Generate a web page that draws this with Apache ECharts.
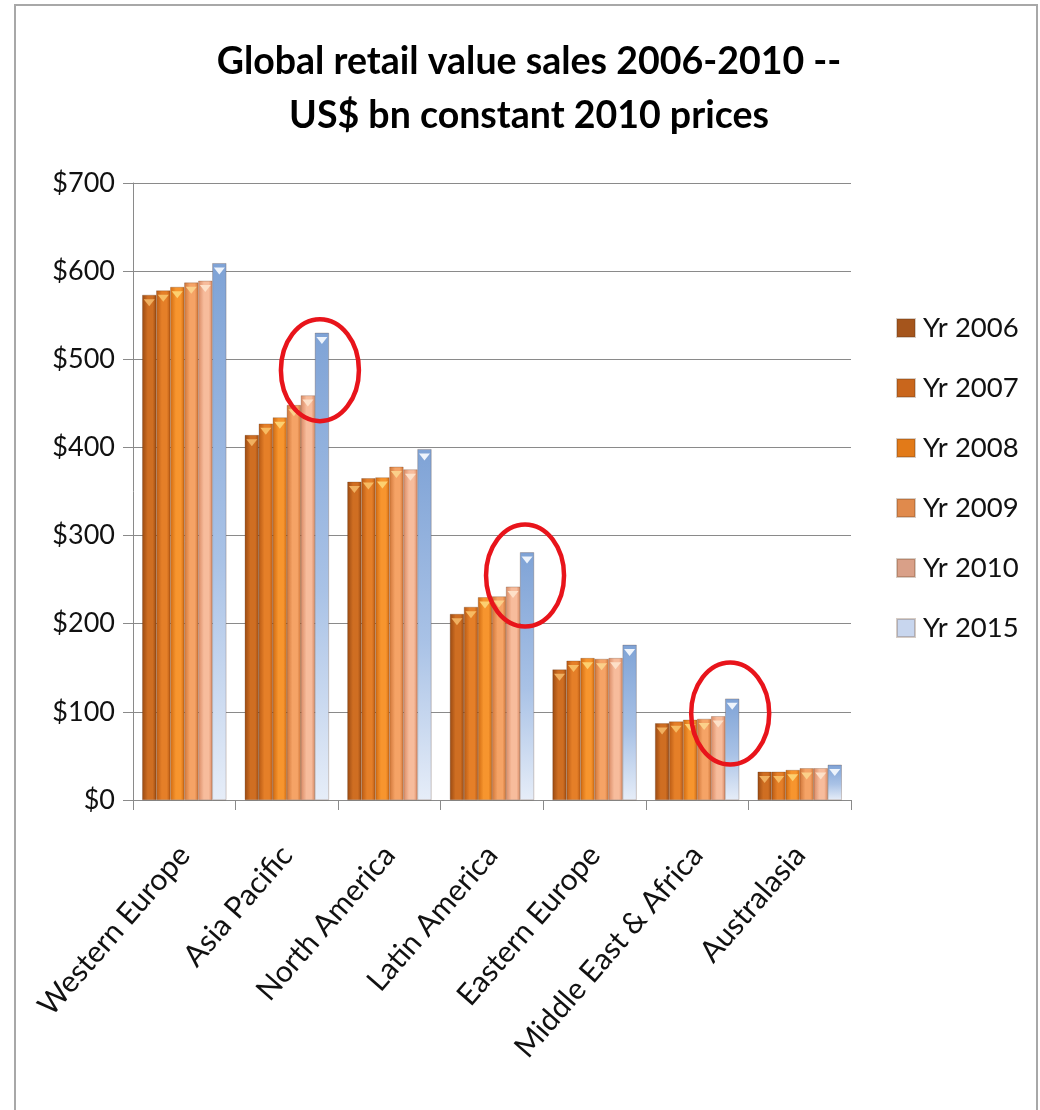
<!DOCTYPE html>
<html>
<head>
<meta charset="utf-8">
<script src="https://cdn.jsdelivr.net/npm/echarts@6/dist/echarts.min.js"></script>
<style>
  html, body { margin: 0; padding: 0; background: #ffffff; }
  #chart { width: 1040px; height: 1110px; }
</style>
</head>
<body>
<div id="chart"></div>
<script>
// Regions on the category axis
const regions = ['Western Europe', 'Asia Pacific', 'North America', 'Latin America',
                 'Eastern Europe', 'Middle East & Africa', 'Australasia'];

// Retail value sales, US$ bn at constant 2010 prices
const yr2006 = [573, 414, 361, 211, 148, 87, 32];
const yr2007 = [578, 427, 365, 219, 158, 89, 32];
const yr2008 = [582, 434, 366, 230, 161, 91, 34];
const yr2009 = [587, 448, 378, 231, 160, 92, 36];
const yr2010 = [589, 459, 375, 242, 161, 95, 36];
const yr2015 = [609, 530, 398, 281, 176, 115, 40];

const seriesNames = ['Yr 2006', 'Yr 2007', 'Yr 2008', 'Yr 2009', 'Yr 2010', 'Yr 2015'];
const seriesValues = [yr2006, yr2007, yr2008, yr2009, yr2010, yr2015];

// Value-axis ticks
const yTicks = [0, 100, 200, 300, 400, 500, 600, 700];

// Regions whose 2010→2015 jump is circled
const circled = ['Asia Pacific', 'Latin America', 'Middle East & Africa'];

const FONT = 'Lato, "Open Sans", sans-serif';

// Shaded fills: [edge, highlight]
const shades = [
  ['#9a4a12', '#cf6e22'],
  ['#b85a14', '#e57f28'],
  ['#cf6a12', '#f7952e'],
  ['#cf7538', '#f5a366'],
  ['#d98a64', '#f7bc9c'],
];

function barFill(i) {
  if (i === 5) {
    return new echarts.graphic.LinearGradient(0, 0, 0, 1, [
      { offset: 0, color: '#7fa3d6' },
      { offset: 0.55, color: '#a9c2e6' },
      { offset: 1, color: '#e6edf8' }
    ]);
  }
  const s = shades[i];
  return new echarts.graphic.LinearGradient(0, 0, 1, 0, [
    { offset: 0, color: s[0] },
    { offset: 0.4, color: s[1] },
    { offset: 0.75, color: s[1] },
    { offset: 1, color: s[0] }
  ]);
}
const legendColors = ['#a5551c', '#c9661c', '#e27a18', '#e08a4c', '#d9a088', '#c8d6ee'];
const capColors = ['#f0b060', '#f7bb62', '#fcd070', '#fbd08a', '#fde0c8', '#eef4fc'];

const BAR_CAT_GAP = '18%';

const series = [];
seriesValues.forEach((vals, i) => {
  series.push({
    name: seriesNames[i],
    type: 'bar',
    data: vals,
    barGap: '0%',
    barCategoryGap: BAR_CAT_GAP,
    itemStyle: { color: barFill(i), borderColor: 'rgba(90,50,20,0.25)', borderWidth: 0.5 },
    emphasis: { disabled: true }
  });
});
// Down-pointing caps on top of each bar
seriesValues.forEach((vals, i) => {
  series.push({
    name: seriesNames[i],
    type: 'pictorialBar',
    data: vals,
    barGap: '0%',
    barCategoryGap: BAR_CAT_GAP,
    symbol: 'triangle',
    symbolRotate: 180,
    symbolSize: [11, 7],
    symbolPosition: 'end',
    symbolOffset: [0, '60%'],
    itemStyle: { color: capColors[i] },
    z: 3,
    silent: true
  });
});

const chart = echarts.init(document.getElementById('chart'), null, { renderer: 'canvas' });

chart.setOption({
  animation: false,
  backgroundColor: '#ffffff',
  color: legendColors,
  title: {
    text: 'Global retail value sales 2006-2010 --\nUS$ bn constant 2010 prices',
    left: 524,
    textAlign: 'center',
    top: 30,
    textStyle: {
      fontFamily: FONT,
      fontWeight: 'bold',
      fontSize: 37.5,
      lineHeight: 54,
      color: '#000'
    }
  },
  legend: {
    orient: 'vertical',
    left: 891,
    top: 309,
    itemGap: 32,
    itemWidth: 18,
    itemHeight: 18,
    icon: 'rect',
    data: seriesNames.map((n, i) => ({ name: n, itemStyle: { color: legendColors[i] } })),
    textStyle: { fontFamily: FONT, fontSize: 27.5, color: '#111', padding: [0, 0, 0, 3] }
  },
  grid: { left: 133, right: 189, top: 183, bottom: 310, containLabel: false },
  xAxis: {
    type: 'category',
    data: regions,
    axisLine: { lineStyle: { color: '#8a8a8a', width: 1 } },
    axisTick: { show: true, length: 10, lineStyle: { color: '#8a8a8a' } },
    axisLabel: {
      rotate: 49,
      interval: 0,
      margin: 50,
      fontFamily: FONT,
      fontSize: 30,
      color: '#111'
    }
  },
  yAxis: {
    type: 'value',
    min: yTicks[0],
    max: yTicks[yTicks.length - 1],
    interval: 100,
    axisLine: { show: true, lineStyle: { color: '#8a8a8a' } },
    axisTick: { show: true, length: 10, lineStyle: { color: '#8a8a8a' } },
    splitLine: { lineStyle: { color: '#8a8a8a', width: 1 } },
    axisLabel: {
      margin: 18,
      fontFamily: FONT,
      fontSize: 27,
      color: '#111',
      formatter: v => '$' + v
    }
  },
  series: series
});

// Outer frame and red circles around the 2015 jumps
function drawOverlays() {
  const graphics = [{
    type: 'rect',
    shape: { x: 15, y: 5, width: 1022, height: 1120 },
    style: { fill: null, stroke: '#a8a8a8', lineWidth: 2 },
    silent: true
  }];
  const layout = chart.getModel().getSeriesByIndex(5).getData();
  circled.forEach(name => {
    const idx = regions.indexOf(name);
    const rect = layout.getItemLayout(idx);
    const prev = chart.convertToPixel({ seriesIndex: 4 }, [idx, yr2010[idx]]);
    const top15 = chart.convertToPixel({ seriesIndex: 5 }, [idx, yr2015[idx]]);
    const cx = rect.x + rect.width / 2 - 2;
    const cy = (prev[1] + top15[1]) / 2 + 6;
    graphics.push({
      type: 'ellipse',
      shape: { cx: cx, cy: cy, rx: 39, ry: 51 },
      style: { fill: null, stroke: '#e8141b', lineWidth: 4.5 },
      z: 100,
      silent: true
    });
  });
  chart.setOption({ graphic: graphics });
}
drawOverlays();
</script>
</body>
</html>
